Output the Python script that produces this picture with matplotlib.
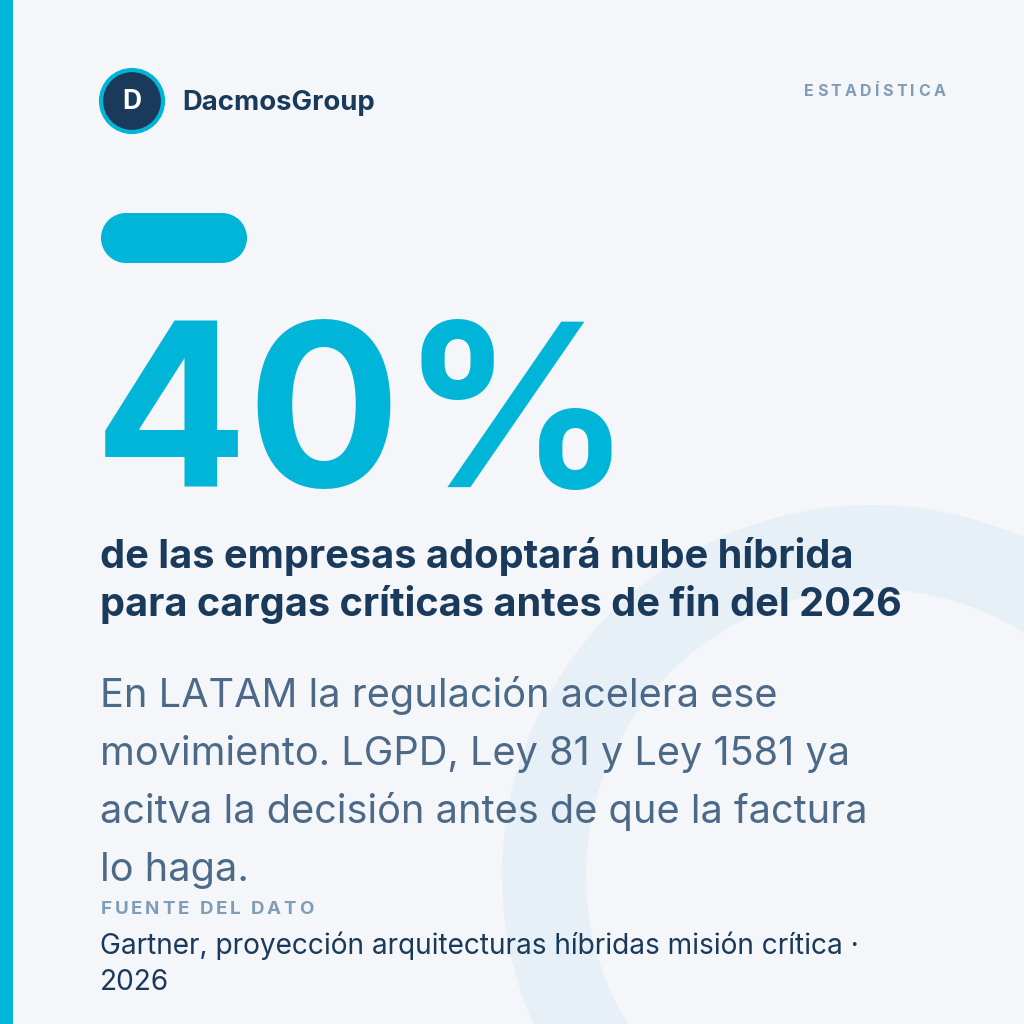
import matplotlib
matplotlib.use('Agg')
import matplotlib.pyplot as plt
from matplotlib.patches import Circle, Rectangle, Wedge

# content
brand = 'DacmosGroup'
tag = 'ESTADÍSTICA'
big_value = '40%'
headline = ['de las empresas adoptará nube híbrida',
            'para cargas críticas antes de fin del 2026']
body = ['En LATAM la regulación acelera ese',
        'movimiento. LGPD, Ley 81 y Ley 1581 ya',
        'acitva la decisión antes de que la factura',
        'lo haga.']
source_label = 'FUENTE DEL DATO'
source = ['Gartner, proyección arquitecturas híbridas misión crítica ·',
          '2026']

bg = '#F4F6FA'
cyan = '#00B5D8'
navy = '#1A3A5C'
body_col = '#4C6A88'
label_col = '#7F9DB6'
ring_col = '#E8F0F7'

plt.rcParams['font.family'] = ['Inter', 'DejaVu Sans']

fig = plt.figure(figsize=(10.24, 10.24), dpi=100)
fig.patch.set_facecolor(bg)
ax = fig.add_axes([0, 0, 1, 1])
ax.set_xlim(0, 1024)
ax.set_ylim(1024, 0)
ax.axis('off')
ax.set_facecolor(bg)

# background ring
ax.add_patch(Wedge((872, 875), 370, 0, 360, width=84, color=ring_col, lw=0))
# left accent bar
ax.add_patch(Rectangle((0, 0), 13, 1024, color=cyan, lw=0))

# logo
ax.add_patch(Circle((132, 101), 31, facecolor=navy, edgecolor=cyan, lw=3))
ax.text(132, 102, 'D', color='white', fontsize=19, fontweight='bold',
        ha='center', va='center')
ax.text(182, 110, brand, color=navy, fontsize=19.8, fontweight='bold',
        va='baseline')

renderer = fig.canvas.get_renderer()


def spaced(x, y, s, size, track, color, weight='bold', align='left'):
    # draw letter-spaced text char by char
    widths = []
    for ch in s:
        if ch == ' ':
            widths.append(size * 0.38)
            continue
        t = ax.text(0, 0, ch, fontsize=size, fontweight=weight)
        widths.append(t.get_window_extent(renderer).width)
        t.remove()
    total = sum(widths) + track * (len(s) - 1)
    if align == 'right':
        x = x - total
    for ch, w in zip(s, widths):
        if ch != ' ':
            ax.text(x, y, ch, fontsize=size, fontweight=weight, color=color,
                    va='baseline')
        x += w + track


spaced(945, 96, tag, 11.5, 3.3, label_col, align='right')

# pill: rectangle with round ends
ax.add_patch(Rectangle((126, 213), 96, 50, color=cyan, lw=0))
ax.add_patch(Circle((126, 238), 25, color=cyan, lw=0))
ax.add_patch(Circle((222, 238), 25, color=cyan, lw=0))

# big number
ax.text(94, 487, big_value, color=cyan, fontsize=164, fontweight='bold',
        va='baseline')

# headline
for i, line in enumerate(headline):
    ax.text(100, 568 + i * 48, line, color=navy, fontsize=28.6,
            fontweight='bold', va='baseline')

# body
for i, line in enumerate(body):
    ax.text(100, 707 + i * 58, line, color=body_col, fontsize=28.6,
            va='baseline')

spaced(101, 914, source_label, 13.5, 2.7, label_col)

for i, line in enumerate(source):
    ax.text(100, 954 + i * 36, line, color=navy, fontsize=20.2,
            va='baseline')

fig.savefig('out.png', dpi=100, facecolor=bg)
